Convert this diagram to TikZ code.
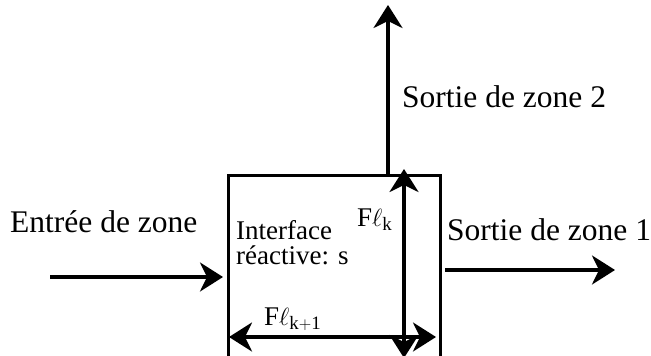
\documentclass[tikz,border=0pt]{standalone}
\usepackage{fontspec}
\setmainfont{Liberation Serif}
\usetikzlibrary{positioning, arrows.meta}

\begin{document}
\begin{tikzpicture}[x=1pt, y=-1pt, >={Stealth[length=23pt, width=29pt, inset=7pt]},
    flow/.style={->, line width=3.4pt},
    twoway/.style={<->, line width=3.4pt},
    label/.style={inner sep=0pt, font=\fontsize{31.5}{34}\selectfont},
    small/.style={inner sep=0pt, font=\fontsize{27}{25}\selectfont, align=left},
    flux/.style={inner sep=0pt, font=\fontsize{27}{28}\selectfont}]
    \useasboundingbox (0,0) rectangle (651,356);

    % Zone
    \node[draw, line width=2.6pt, minimum width=212pt, minimum height=200pt, anchor=north west] (box) at (227,174) {};
    \node[small, anchor=north west] (s) at (236,220) {Interface\\réactive: s};

    % Inputs and outputs
    \node[label, anchor=base west] (entree) at (10,232) {Entrée de zone};
    \node[label, anchor=base west] (sortie1) at (447,240) {Sortie de zone 1};
    \node[label, anchor=base west] (sortie2) at (402,107) {Sortie de zone 2};

    \coordinate (in) at (50,277);
    \coordinate (out1a) at (445,270);
    \coordinate (out1b) at (615,270);
    \coordinate (out2) at (388,5);

    \draw[flow] (in) -- ([xshift=-4pt]box.west |- in);
    \draw[flow] (out1a) -- (out1b);
    \draw[flow] (out2 |- box.north) -- (out2);

    % Fluxes at the interface
    \coordinate (vt) at (404,169);
    \coordinate (vb) at (404,358);
    \coordinate (hl) at (229,337);
    \coordinate (hr) at (436,337);
    \draw[twoway] (vb) -- (vt);
    \draw[twoway] (hl) -- (hr);

    \node[flux, anchor=base west] (fk) at (357,226) {F$\ell_{\mathrm{k}}$};
    \node[flux, anchor=base west] (fk1) at (264,325) {F$\ell_{\mathrm{k+1}}$};
\end{tikzpicture}
\end{document}
